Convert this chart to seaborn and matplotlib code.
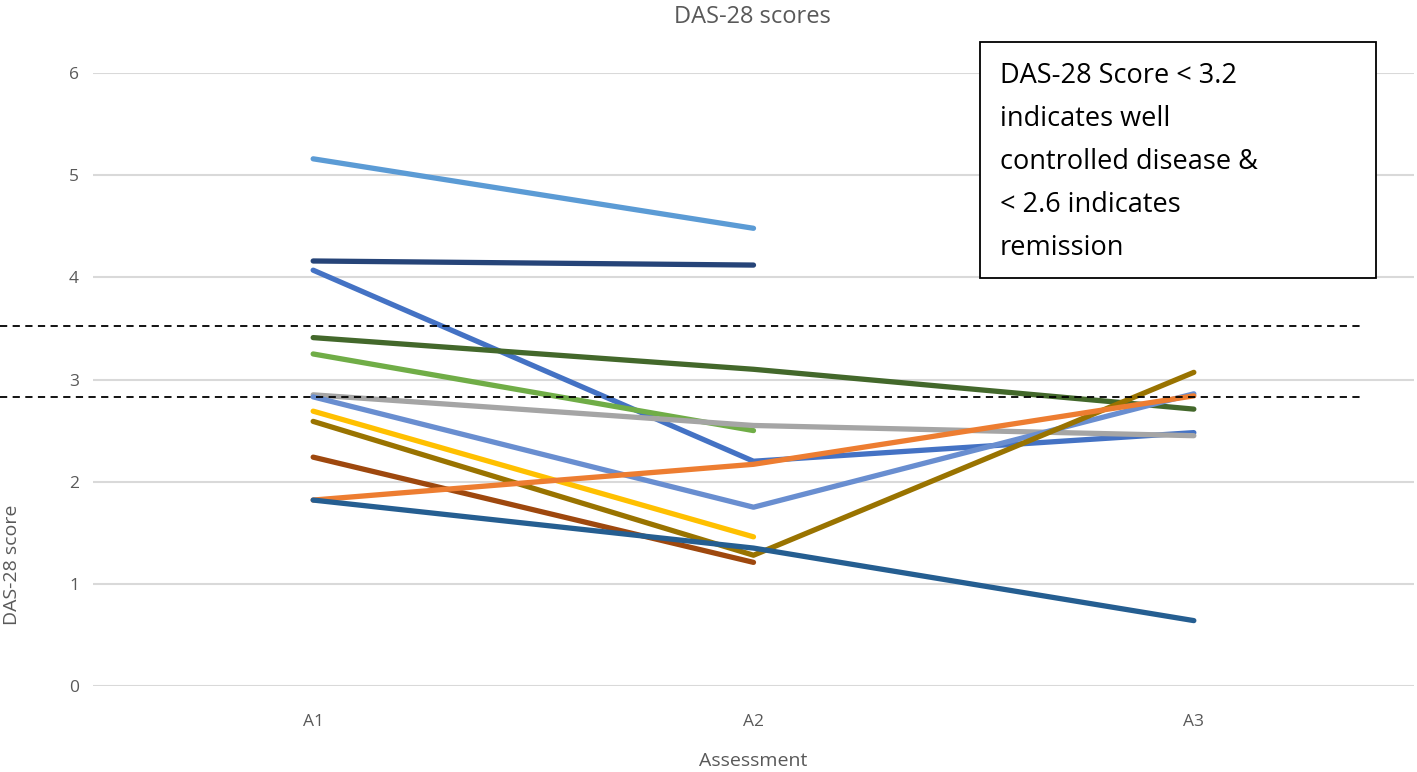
import numpy as np
import pandas as pd
import matplotlib.pyplot as plt
from matplotlib.patches import Rectangle
import seaborn as sns

# assessments and per-patient DAS-28 scores (nan = not assessed)
assessments = ['A1', 'A2', 'A3']
p01 = [5.16, 4.48, np.nan]
p02 = [4.16, 4.12, np.nan]
p03 = [4.07, 2.20, 2.48]
p04 = [3.41, 3.10, 2.71]
p05 = [3.25, 2.50, np.nan]
p06 = [2.85, 2.55, 2.45]
p07 = [2.83, 1.75, 2.86]
p08 = [2.69, 1.46, np.nan]
p09 = [2.59, 1.28, 3.07]
p10 = [2.24, 1.21, np.nan]
p11 = [1.82, 2.17, 2.84]
p12 = [1.82, 1.35, 0.64]

colors = ['#5B9BD5', '#264478', '#4472C4', '#43682B', '#70AD47', '#A5A5A5',
          '#698ED0', '#FFC000', '#997300', '#9E480E', '#ED7D31', '#255E91']

# dashed reference lines drawn over the chart
thresholds = [3.52, 2.83]

patients = [p01, p02, p03, p04, p05, p06, p07, p08, p09, p10, p11, p12]
rows = []
for i, vals in enumerate(patients):
    for a, v in zip(assessments, vals):
        if not np.isnan(v):
            rows.append({'patient': f'P{i+1}', 'Assessment': a, 'score': v})
df = pd.DataFrame(rows)

sns.set_style('white')
plt.rcParams['font.family'] = ['Open Sans', 'DejaVu Sans']

W, H = 1417, 772
fig = plt.figure(figsize=(W / 100, H / 100), dpi=100)
ax = fig.add_axes([93 / W, 86 / H, 1321 / W, 613 / H])

sns.lineplot(data=df, x='Assessment', y='score', hue='patient',
             palette=colors, linewidth=3.8, solid_capstyle='round',
             legend=False, ax=ax, sort=False)

ax.set_xlim(-0.5, 2.5)
ax.set_ylim(0, 6)
ax.set_yticks(range(0, 7))
ax.grid(axis='y', color='#D9D9D9', linewidth=1.5)
ax.set_axisbelow(True)
for s in ax.spines.values():
    s.set_visible(False)
ax.tick_params(length=0, labelsize=12.5, labelcolor='#595959', pad=10)
ax.tick_params(axis='x', pad=20)

ax.set_xlabel('Assessment', fontsize=14, color='#595959', labelpad=16)
ax.set_ylabel('')
fig.text(3 / W, 1 - 565 / H, 'DAS-28 score', rotation=90, fontsize=14,
         color='#595959', ha='left', va='center')
fig.text(752 / W, 1 - 5 / H, 'DAS-28 scores', fontsize=17, color='#595959',
         ha='center', va='top')

for t in thresholds:
    ax.axhline(t, xmin=-0.0704, xmax=0.963, color='black', linestyle='--',
               linewidth=1.3, dashes=(4, 3), clip_on=False, zorder=5)

fig.patches.append(Rectangle((980 / W, 1 - 278 / H), 396 / W, 236 / H,
                             transform=fig.transFigure, facecolor='white',
                             edgecolor='black', linewidth=1.3, zorder=6))
fig.text(1000 / W, 1 - 62 / H,
         'DAS-28 Score < 3.2\nindicates well\ncontrolled disease &\n< 2.6 indicates\nremission',
         fontsize=19.5, color='black', va='top', ha='left', linespacing=1.72,
         zorder=7)

fig.savefig('out.png', dpi=100)
